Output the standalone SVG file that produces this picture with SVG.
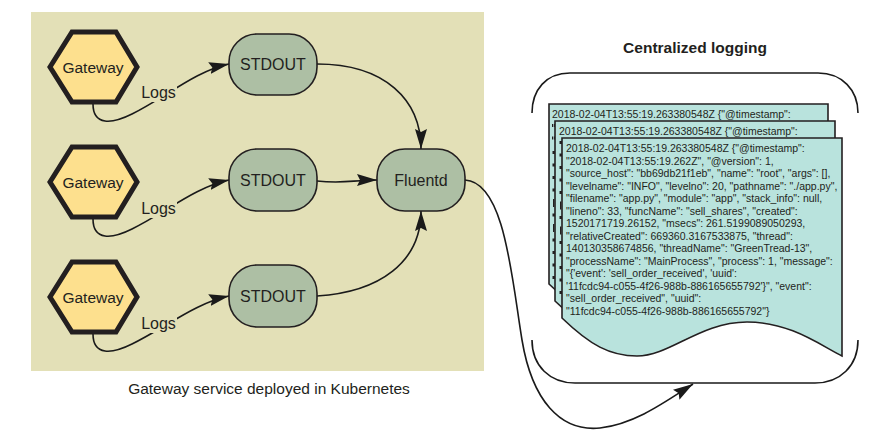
<svg xmlns="http://www.w3.org/2000/svg" width="882" height="444" viewBox="0 0 882 444">
<defs>
<marker id="arr" markerUnits="userSpaceOnUse" markerWidth="21" markerHeight="13" viewBox="0 0 21 13" refX="20" refY="6.5" orient="auto">
<path d="M0,0.5 L20,6.5 L0,12.5 L3,6.5 Z" fill="#1a1a1a"/>
</marker>
<style>
.hex{fill:#fde08e;stroke:#231f20;stroke-width:5;stroke-linejoin:miter}
.node{fill:#adbfa4;stroke:#231f20;stroke-width:1.6}
.lbl{font-family:"Liberation Sans",Arial,sans-serif;font-size:15.5px;fill:#231f20;text-anchor:middle}
.big{font-size:16px}
.edge{fill:none;stroke:#1a1a1a;stroke-width:1.6}
.doc{fill:#b9e3dd;stroke:#231f20;stroke-width:1.6}
.dt{font-family:"Liberation Sans",Arial,sans-serif;font-size:10.5px;fill:#231f20}
.mk{fill:#231f20}
.lb{fill:#e3e0b7}
</style>
</defs>
<rect x="31" y="12" width="453" height="359" fill="#e3e0b7"/>
<text class="lbl" x="269" y="394">Gateway service deployed in Kubernetes</text>
<text class="lbl" x="695" y="53" style="font-weight:bold;font-size:15.5px">Centralized logging</text>

<g id="connectors">
<path class="edge" d="M93,104 C93,126 112,124 132,114 C165,98 195,71 229,64" marker-end="url(#arr)"/>
<path class="edge" d="M93,219 C93,241 112,239 132,229 C165,213 195,187 229,180" marker-end="url(#arr)"/>
<path class="edge" d="M93,334 C93,356 112,354 132,344 C165,328 195,303 229,296" marker-end="url(#arr)"/>
<path class="edge" d="M317,64 C385,64 421,100 421,149" marker-end="url(#arr)"/>
<path class="edge" d="M317,181 C345,184 352,180 377,180" marker-end="url(#arr)"/>
<path class="edge" d="M317,296 C380,292 421,262 421,211" marker-end="url(#arr)"/>
<path class="edge" d="M465,180 C505,182 512,280 522,340 C532,400 560,432 600,428 C635,424 665,402 693,384" marker-end="url(#arr)"/>
<rect class="lb" x="140" y="84" width="37" height="18"/>
<text class="lbl big" x="158.5" y="98">Logs</text>
<rect class="lb" x="140" y="200" width="37" height="18"/>
<text class="lbl big" x="158.5" y="214">Logs</text>
<rect class="lb" x="140" y="315" width="37" height="18"/>
<text class="lbl big" x="158.5" y="329">Logs</text>
</g>

<g id="gateway1"><polygon class="hex" points="50,67 72,32 116,32 137,67 116,102 72,102"/><text class="lbl" x="93" y="72.5">Gateway</text></g>
<g id="gateway2"><polygon class="hex" points="50,182 72,147 116,147 137,182 116,217 72,217"/><text class="lbl" x="93" y="187.5">Gateway</text></g>
<g id="gateway3"><polygon class="hex" points="50,297 72,262 116,262 137,297 116,332 72,332"/><text class="lbl" x="93" y="302.5">Gateway</text></g>

<g id="stdout1"><rect class="node" x="229" y="34" width="88" height="61" rx="28"/><text class="lbl big" x="273" y="70">STDOUT</text></g>
<g id="stdout2"><rect class="node" x="229" y="149" width="88" height="62" rx="28"/><text class="lbl big" x="273" y="186">STDOUT</text></g>
<g id="stdout3"><rect class="node" x="229" y="265" width="88" height="62" rx="28"/><text class="lbl big" x="273" y="302">STDOUT</text></g>
<g id="fluentd"><rect class="node" x="377" y="149" width="88" height="62" rx="28"/><text class="lbl big" x="421" y="186">Fluentd</text></g>

<g id="centralized-logging">
<path class="edge" d="M532,113 C532,90 546,73 570,73 L818,73 C842,73 858,90 858,113"/>
<path class="edge" d="M532,340 C532,366 550,383 575,383 L815,383 C840,383 858,366 858,340"/>
<g id="doc1">
<path class="doc" d="M549,104 H828 V322 C806,311 776,288 734,288 C687,288 657,322 624,322 C597,322 577,311 549,284 Z"/>
<text class="dt" x="552" y="118">2018-02-04T13:55:19.263380548Z {"@timestamp":</text>
</g>
<g id="doc2">
<path class="doc" d="M555,121 H835 V339 C813,328 783,305 740,305 C693,305 663,339 630,339 C603,339 583,328 555,301 Z"/>
<text class="dt" x="559" y="135">2018-02-04T13:55:19.263380548Z {"@timestamp":</text>
<g class="mk">
<rect x="552" y="124" width="1.3" height="3"/><rect x="554" y="124" width="1" height="3"/>
<rect x="552" y="136.5" width="1.3" height="3"/><rect x="554" y="136.5" width="1" height="3"/>
</g>
</g>
<g class="mk">
<rect x="552.5" y="151" width="2.5" height="3"/>
<rect x="552.5" y="163.5" width="2.5" height="3"/>
<rect x="552.5" y="176" width="2.5" height="3"/>
<rect x="552.5" y="188.5" width="2.5" height="3"/>
<rect x="553" y="199" width="1.3" height="8"/>
<rect x="552.5" y="213.5" width="2.5" height="3"/>
<rect x="553" y="224" width="1.3" height="8"/>
<rect x="552.5" y="238.5" width="2.5" height="3"/>
<rect x="552.5" y="251" width="2.5" height="3"/>
<rect x="552.5" y="263.5" width="2.5" height="3"/>
<rect x="552.5" y="276" width="2.5" height="3"/>
<rect x="559.5" y="141" width="2.5" height="3"/>
<rect x="559.5" y="153.5" width="2.5" height="3"/>
<rect x="559.5" y="166" width="2.5" height="3"/>
<rect x="559.5" y="178.5" width="2.5" height="3"/>
<rect x="559.5" y="191" width="2.5" height="3"/>
<rect x="560" y="201.5" width="1.3" height="8"/>
<rect x="559.5" y="216" width="2.5" height="3"/>
<rect x="560" y="226.5" width="1.3" height="8"/>
<rect x="559.5" y="241" width="2.5" height="3"/>
<rect x="559.5" y="253.5" width="2.5" height="3"/>
<rect x="559.5" y="266" width="2.5" height="3"/>
<rect x="559.5" y="278.5" width="2.5" height="3"/>
<rect x="559.5" y="291" width="2.5" height="3"/>
</g>
<g id="doc3">
<path class="doc" d="M562,138 H842 V356 C820,345 790,322 747,322 C700,322 670,356 637,356 C610,356 590,345 562,318 Z"/>
<text class="dt" x="566">
<tspan x="566" y="152">2018-02-04T13:55:19.263380548Z {"@timestamp":</tspan>
<tspan x="566" y="164.5">"2018-02-04T13:55:19.262Z", "@version": 1,</tspan>
<tspan x="566" y="177">"source_host": "bb69db21f1eb", "name": "root", "args": [],</tspan>
<tspan x="566" y="189.5">"levelname": "INFO", "levelno": 20, "pathname": "./app.py",</tspan>
<tspan x="566" y="202">"filename": "app.py", "module": "app", "stack_info": null,</tspan>
<tspan x="566" y="214.5">"lineno": 33, "funcName": "sell_shares", "created":</tspan>
<tspan x="566" y="227">1520171719.26152, "msecs": 261.5199089050293,</tspan>
<tspan x="566" y="239.5">"relativeCreated": 669360.3167533875, "thread":</tspan>
<tspan x="566" y="252">140130358674856, "threadName": "GreenTread-13",</tspan>
<tspan x="566" y="264.5">"processName": "MainProcess", "process": 1, "message":</tspan>
<tspan x="566" y="277">"{'event': 'sell_order_received', 'uuid':</tspan>
<tspan x="566" y="289.5">'11fcdc94-c055-4f26-988b-886165655792'}", "event":</tspan>
<tspan x="566" y="302">"sell_order_received", "uuid":</tspan>
<tspan x="566" y="314.5">"11fcdc94-c055-4f26-988b-886165655792"}</tspan>
</text>
</g>
</g>
</svg>
